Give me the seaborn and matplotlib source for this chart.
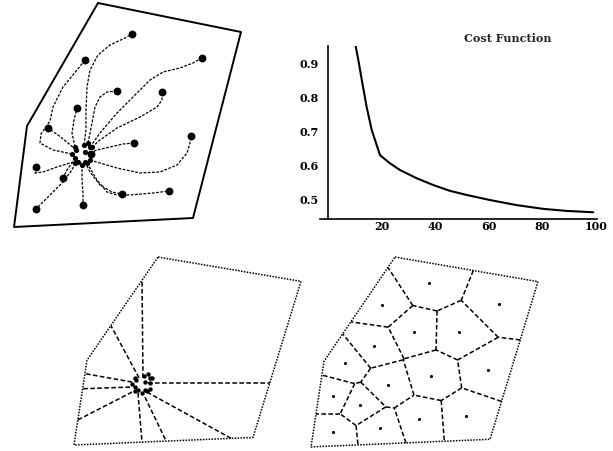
import numpy as np
import pandas as pd
import matplotlib
matplotlib.use("Agg")
import matplotlib.pyplot as plt
import seaborn as sns

W, H = 613, 451

# region boundary (same region drawn in the three maps)
region_x = [98, 241, 193, 14, 27]
region_y = [3, 32, 218, 227, 126]

# agents: start (clustered) and final positions
start_x = [84, 72, 90, 88, 92, 75, 76, 90, 90, 78, 75, 85, 87, 75, 82, 85]
start_y = [145, 154, 147, 143, 147, 147, 150, 160, 153, 162, 158, 162, 163, 163, 165, 152]
final_x = [132, 85, 202, 117, 162, 77, 48, 191, 134, 36, 63, 122, 169, 36, 83, 91]
final_y = [34, 60, 58, 91, 92, 108, 128, 136, 143, 167, 178, 194, 191, 209, 205, 154]

# waypoints of each trajectory between start and final position
waypoints = [
    [(86, 130), (86, 110), (87, 87), (90, 70), (98, 55), (110, 45), (125, 38)],
    [(53, 150), (40, 143), (41, 134), (50, 121), (53, 107), (63, 87), (77, 70)],
    [(100, 133), (117, 113), (133, 97), (150, 80), (163, 72), (180, 68), (193, 63)],
    [(92, 123), (95, 107), (100, 97), (107, 92)],
    [(100, 140), (117, 128), (140, 117), (157, 107), (162, 100)],
    [(72, 133), (74, 120)],
    [(68, 143), (58, 135)],
    [(100, 163), (117, 168), (140, 173), (160, 172), (177, 165), (187, 153), (190, 143)],
    [(97, 150), (110, 147), (123, 144)],
    [(70, 163), (57, 167), (43, 172), (35, 173)],
    [(72, 163), (67, 170)],
    [(90, 172), (100, 185), (112, 192)],
    [(97, 180), (107, 192), (117, 195), (130, 195), (153, 193)],
    [(72, 170), (63, 182), (53, 192), (43, 202)],
    [(82, 180), (83, 193)],
    [],
]

# initial partition: edges from the cluster out to the boundary
split_in_x = [83, 79, 72, 70, 72, 78, 85, 87, 88]
split_in_y = [147, 147, 152, 158, 164, 165, 170, 164, 153]
split_out_x = [82, 51, 25, 22.5, 18, 82, 106, 171, 210]
split_out_y = [32, 85, 142, 160, 197, 224, 222, 219, 153]

# cost function
iters = [10.3, 11.3, 12.6, 14.4, 16.3, 19.4, 23.1, 26.9, 33.1, 39.3, 45.5, 51.7,
         60.4, 70.4, 80.3, 89.1, 99.0]
cost = [0.95, 0.909, 0.85, 0.771, 0.703, 0.629, 0.605, 0.585, 0.561, 0.541,
        0.524, 0.512, 0.497, 0.482, 0.471, 0.465, 0.461]


def px_axes(fig, left, top, right, bottom):
    return fig.add_axes([left / W, 1 - bottom / H, (right - left) / W, (bottom - top) / H])


def clip(pts, labs, a, b, lab):
    """Clip polygon to a.p <= b, keeping a label for every edge"""
    out_p, out_l = [], []
    n = len(pts)
    for k in range(n):
        P, Q, L = pts[k], pts[(k + 1) % n], labs[k]
        inP, inQ = a @ P <= b, a @ Q <= b
        if inP != inQ:
            t = (b - a @ P) / (a @ (Q - P))
            I = P + t * (Q - P)
        if inP:
            out_p.append(P)
            out_l.append(L)
            if not inQ:
                out_p.append(I)
                out_l.append(lab)
        elif inQ:
            out_p.append(I)
            out_l.append(L)
    return out_p, out_l


def voronoi_edges(sx, sy, bx, by):
    sites = np.column_stack([sx, sy]).astype(float)
    edges = []
    for i, s in enumerate(sites):
        pts = [np.array(p, dtype=float) for p in zip(bx, by)]
        labs = [-1] * len(pts)
        for j, o in enumerate(sites):
            if i == j:
                continue
            a = o - s
            b = (o @ o - s @ s) / 2
            pts, labs = clip(pts, labs, a, b, j)
        for k, L in enumerate(labs):
            if L > i:
                edges.append((pts[k], pts[(k + 1) % len(pts)]))
    return edges


def map_axes(ax):
    ax.set_xlim(0, 250)
    ax.set_ylim(235, 0)
    ax.axis("off")


sns.set_style("white")
fig = plt.figure(figsize=(W / 100, H / 100), dpi=100)

traj_style = dict(color="black", lw=0.9, ls=(0, (2.2, 1.2)))
edge_style = dict(color="black", lw=1.1, ls=(0, (3, 1.6)))
dot_border = dict(color="black", lw=1.1, ls=(0, (1, 0.9)))
bx = region_x + region_x[:1]
by = region_y + region_y[:1]

# top left: trajectories
ax1 = px_axes(fig, 0, 0, 250, 235)
ax1.plot(bx, by, color="black", lw=1.4)
for i in range(len(final_x)):
    path = [(start_x[i], start_y[i])] + waypoints[i] + [(final_x[i], final_y[i])]
    px, py = zip(*path)
    ax1.plot(px, py, **traj_style)
sns.scatterplot(x=start_x, y=start_y, ax=ax1, color="black", s=14, linewidth=0)
sns.scatterplot(x=final_x, y=final_y, ax=ax1, color="black", s=32, linewidth=0)
map_axes(ax1)

# top right: cost function
ax2 = px_axes(fig, 320, 46, 597.3, 219.4)
df = pd.DataFrame({"iter": iters, "cost": cost})
sns.lineplot(data=df, x="iter", y="cost", ax=ax2, color="black", lw=1.5,
             sort=False, estimator=None)
ax2.set_xlim(-3, 100.5)
ax2.set_ylim(0.44, 0.95)
ax2.set_xlabel("")
ax2.set_ylabel("")
for side in ["top", "right"]:
    ax2.spines[side].set_visible(False)
ax2.spines["left"].set_position(("data", 0))
ax2.spines["left"].set_bounds(0.445, 0.95)
for side in ["left", "bottom"]:
    ax2.spines[side].set_color("black")
    ax2.spines[side].set_linewidth(1.2)
ax2.set_xticks([20, 40, 60, 80, 100])
ax2.set_yticks([0.5, 0.6, 0.7, 0.8, 0.9])
ax2.set_xticks(np.arange(5, 100, 5), minor=True)
ax2.set_yticks(np.arange(0.45, 0.95, 0.02), minor=True)
ax2.tick_params(which="major", direction="in", length=3, width=0.8, colors="black")
ax2.tick_params(which="minor", direction="in", length=1.5, width=0.6, colors="black")
ax2.tick_params(axis="y", pad=7)
ax2.tick_params(axis="x", pad=1)
for lab in ax2.get_xticklabels() + ax2.get_yticklabels():
    lab.set_fontfamily("DejaVu Serif")
    lab.set_fontweight("bold")
    lab.set_fontsize(8)
ax2.set_facecolor("none")
fig.text(508 / W, 1 - 39 / H, "Cost Function", ha="center", va="center",
         family="DejaVu Serif", weight="bold", fontsize=8)

# bottom left: initial partition
ax3 = px_axes(fig, 60, 254.5, 310, 451.7)
ax3.plot(bx, by, **dot_border)
for x0, y0, x1, y1 in zip(split_in_x, split_in_y, split_out_x, split_out_y):
    ax3.plot([x0, x1], [y0, y1], **edge_style)
sns.scatterplot(x=start_x, y=start_y, ax=ax3, color="black", s=10, linewidth=0)
map_axes(ax3)

# bottom right: final partition
ax4 = px_axes(fig, 297, 254.5, 547, 453.7)
ax4.plot(bx, by, **dot_border)
for p, q in voronoi_edges(final_x, final_y, region_x, region_y):
    ax4.plot([p[0], q[0]], [p[1], q[1]], **edge_style)
sns.scatterplot(x=final_x, y=final_y, ax=ax4, color="black", s=5, linewidth=0)
map_axes(ax4)

fig.savefig("out.png", dpi=100)
